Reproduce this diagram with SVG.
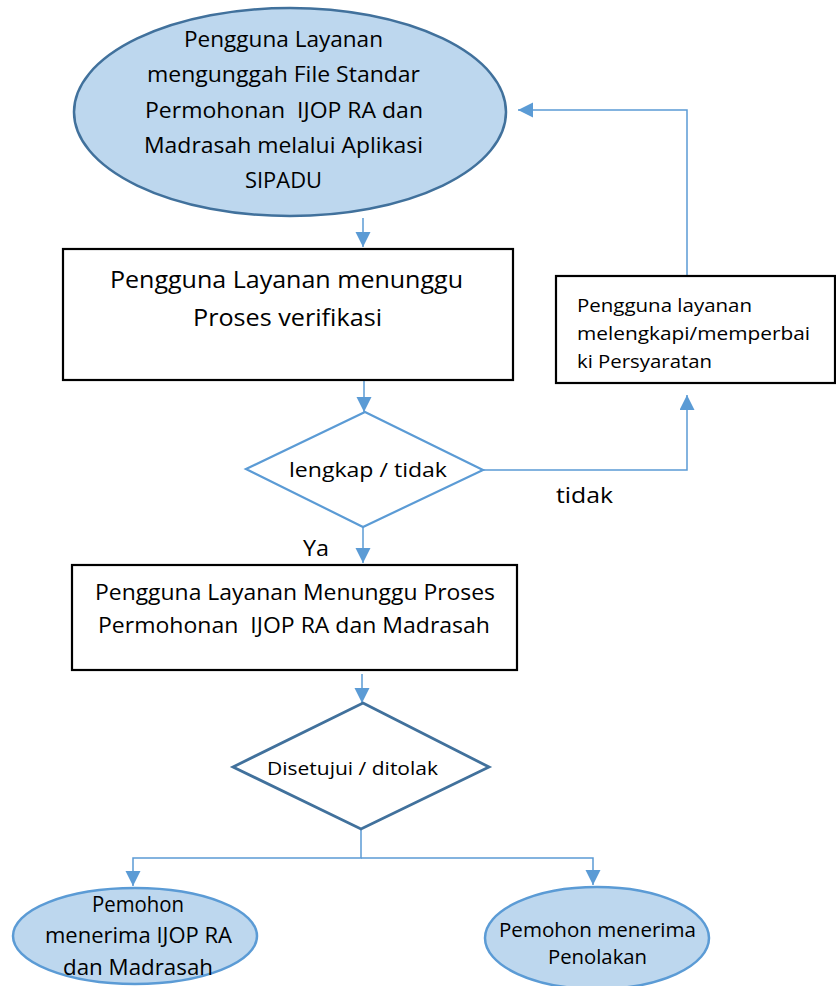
<svg xmlns="http://www.w3.org/2000/svg" width="836" height="986" viewBox="0 0 836 986">
  <style>
    text { font-family: "Open Sans", "Liberation Sans", sans-serif; fill: #000; }
    .terminal { fill: #bdd7ee; stroke: #41719c; stroke-width: 2.5; }
    .terminal-light { fill: #bdd7ee; stroke: #5b9bd5; stroke-width: 2.5; }
    .process { fill: #fff; stroke: #000; stroke-width: 2.2; }
    .decision { fill: #fff; stroke: #5b9bd5; stroke-width: 2.2; }
    .decision-dark { fill: #fff; stroke: #41719c; stroke-width: 2.8; }
    .flow { fill: none; stroke: #5b9bd5; stroke-width: 1.5; }
  </style>
  <defs>
    <marker id="arrow" markerUnits="userSpaceOnUse" markerWidth="16" markerHeight="16" refX="15" refY="7.5" orient="auto">
      <path d="M0,0 L15,7.5 L0,15 Z" fill="#5b9bd5"/>
    </marker>
  </defs>

  <rect width="836" height="986" fill="#fff"/>

  <!-- connectors -->
  <g id="connectors">
    <line class="flow" x1="363" y1="218" x2="363" y2="247" marker-end="url(#arrow)"/>
    <line class="flow" x1="364" y1="381" x2="364" y2="412" marker-end="url(#arrow)"/>
    <polyline class="flow" points="483,470 687,470 687,395" marker-end="url(#arrow)"/>
    <polyline class="flow" points="687,276 687,110 518,110" marker-end="url(#arrow)"/>
    <line class="flow" x1="363" y1="527" x2="363" y2="563" marker-end="url(#arrow)"/>
    <line class="flow" x1="362" y1="674" x2="362" y2="703" marker-end="url(#arrow)"/>
    <polyline class="flow" points="361,829 361,858 133,858 133,886" marker-end="url(#arrow)"/>
    <polyline class="flow" points="361,858 593,858 593,885" marker-end="url(#arrow)"/>
    <text x="556" y="503" font-size="22" textLength="57" lengthAdjust="spacingAndGlyphs">tidak</text>
    <text x="303" y="556" font-size="22" textLength="26" lengthAdjust="spacingAndGlyphs">Ya</text>
  </g>

  <!-- start: upload request -->
  <g id="upload">
    <ellipse class="terminal" cx="290" cy="112" rx="216" ry="104"/>
    <text x="184" y="47" font-size="22" textLength="199" lengthAdjust="spacingAndGlyphs">Pengguna Layanan</text>
    <text x="147" y="82" font-size="22" textLength="273" lengthAdjust="spacingAndGlyphs">mengunggah File Standar</text>
    <text x="145" y="118" font-size="22" textLength="278" lengthAdjust="spacingAndGlyphs" xml:space="preserve">Permohonan  IJOP RA dan</text>
    <text x="144" y="153" font-size="22" textLength="279" lengthAdjust="spacingAndGlyphs">Madrasah melalui Aplikasi</text>
    <text x="245" y="188" font-size="22" textLength="77" lengthAdjust="spacingAndGlyphs">SIPADU</text>
  </g>

  <!-- waiting for verification -->
  <g id="wait-verification">
    <rect class="process" x="63" y="249" width="450" height="131"/>
    <text x="110" y="288" font-size="24" textLength="353" lengthAdjust="spacingAndGlyphs">Pengguna Layanan menunggu</text>
    <text x="193" y="326" font-size="24" textLength="189" lengthAdjust="spacingAndGlyphs">Proses verifikasi</text>
  </g>

  <!-- fix requirements -->
  <g id="fix-requirements">
    <rect class="process" x="556" y="276" width="279" height="107"/>
    <text x="577" y="312" font-size="18" textLength="175" lengthAdjust="spacingAndGlyphs">Pengguna layanan</text>
    <text x="577" y="340" font-size="18" textLength="233" lengthAdjust="spacingAndGlyphs">melengkapi/memperbai</text>
    <text x="577" y="368" font-size="18" textLength="135" lengthAdjust="spacingAndGlyphs">ki Persyaratan</text>
  </g>

  <!-- completeness check -->
  <g id="check-complete">
    <polygon class="decision" points="365,412 483,470 363,527 246,469"/>
    <text x="289" y="477" font-size="20" textLength="158" lengthAdjust="spacingAndGlyphs">lengkap / tidak</text>
  </g>

  <!-- waiting for request processing -->
  <g id="wait-request">
    <rect class="process" x="72" y="565" width="445" height="105"/>
    <text x="95" y="600" font-size="22" textLength="400" lengthAdjust="spacingAndGlyphs">Pengguna Layanan Menunggu Proses</text>
    <text x="98" y="633" font-size="22" textLength="392" lengthAdjust="spacingAndGlyphs" xml:space="preserve">Permohonan  IJOP RA dan Madrasah</text>
  </g>

  <!-- approval decision -->
  <g id="approval">
    <polygon class="decision-dark" points="363,703 489,767 361,829 233,767"/>
    <text x="267" y="775" font-size="19" textLength="171" lengthAdjust="spacingAndGlyphs">Disetujui / ditolak</text>
  </g>

  <!-- outcome: approved -->
  <g id="approved">
    <ellipse class="terminal-light" cx="135" cy="936" rx="122" ry="48"/>
    <text x="92" y="912" font-size="21" textLength="92" lengthAdjust="spacingAndGlyphs">Pemohon</text>
    <text x="45" y="943" font-size="21" textLength="187" lengthAdjust="spacingAndGlyphs">menerima IJOP RA</text>
    <text x="63" y="975" font-size="21" textLength="150" lengthAdjust="spacingAndGlyphs">dan Madrasah</text>
  </g>

  <!-- outcome: rejected -->
  <g id="rejected">
    <ellipse class="terminal-light" cx="597" cy="938" rx="112" ry="51"/>
    <text x="499" y="937" font-size="20" textLength="197" lengthAdjust="spacingAndGlyphs">Pemohon menerima</text>
    <text x="548" y="964" font-size="20" textLength="99" lengthAdjust="spacingAndGlyphs">Penolakan</text>
  </g>
</svg>
